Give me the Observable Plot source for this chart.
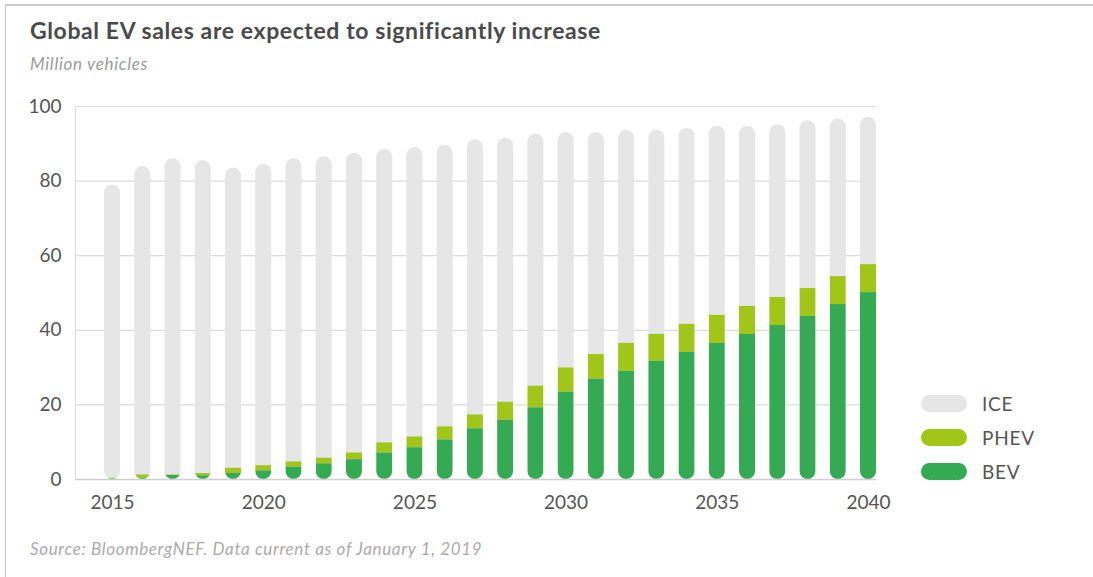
<!DOCTYPE html>
<html>
<head>
<meta charset="utf-8">
<script src="https://cdn.jsdelivr.net/npm/d3@7"></script>
<script src="https://cdn.jsdelivr.net/npm/@observablehq/plot@0.6"></script>
<style>
  html, body { margin: 0; padding: 0; background: #fff; }
  body { width: 1093px; height: 577px; position: relative; overflow: hidden; font-family: Lato, "Noto Sans", sans-serif; }
  #frame { position: absolute; left: 5px; top: 4px; width: 1200px; height: 700px; border-top: 2px solid #cbcbcb; border-left: 1.5px solid #c4c4c4; }
  #title { position: absolute; left: 30px; top: 16px; font-size: 23px; font-weight: 700; color: #4a4a4a; white-space: nowrap; letter-spacing: 0.6px; }
  #subtitle { position: absolute; left: 30px; top: 53px; font-size: 17px; font-style: italic; color: #9a9a9a; white-space: nowrap; letter-spacing: 0.7px; }
  #chart { position: absolute; left: 0; top: 88px; }
  #legend { position: absolute; left: 921px; top: 386px; }
  .item { display: flex; align-items: center; height: 34px; }
  .sw { width: 46px; height: 17px; border-radius: 9px; margin-right: 15px; }
  .lab { font-size: 19px; color: #555; letter-spacing: 0.8px; }
  #source { position: absolute; left: 30px; top: 538px; font-size: 17px; font-style: italic; color: #ababab; white-space: nowrap; letter-spacing: 0.65px; }
</style>
</head>
<body>
<div id="frame"></div>
<div id="title">Global EV sales are expected to significantly increase</div>
<div id="subtitle">Million vehicles</div>
<div id="chart"></div>
<div id="legend"></div>
<div id="source">Source: BloombergNEF. Data current as of January 1, 2019</div>
<script>
// ---- data (million vehicles) ----
const years = [2015, 2016, 2017, 2018, 2019, 2020, 2021, 2022, 2023, 2024, 2025, 2026, 2027,
               2028, 2029, 2030, 2031, 2032, 2033, 2034, 2035, 2036, 2037, 2038, 2039, 2040];
const bev  = [0.2, 0.3, 1.1, 1.0, 1.6, 2.3, 3.3, 4.2, 5.3, 7.1, 8.5, 10.6, 13.6,
              15.9, 19.2, 23.4, 26.9, 29.0, 31.7, 34.1, 36.5, 38.9, 41.3, 43.7, 46.9, 50.1];
const phev = [0.1, 0.9, 0.1, 0.6, 1.4, 1.4, 1.4, 1.5, 1.8, 2.7, 2.9, 3.5, 3.7,
              4.8, 5.8, 6.5, 6.6, 7.5, 7.2, 7.5, 7.5, 7.5, 7.5, 7.5, 7.5, 7.5];
const ice  = [78.6, 82.7, 84.8, 83.9, 80.5, 80.8, 81.3, 80.8, 80.4, 78.7, 77.6, 75.5, 73.8,
              70.8, 67.6, 63.1, 59.5, 57.1, 54.7, 52.5, 50.7, 48.3, 46.3, 45.0, 42.2, 39.5];
const yTicks = [0, 20, 40, 60, 80, 100];
const xTicks = [2015, 2020, 2025, 2030, 2035, 2040];
const seriesNames = ["ICE", "PHEV", "BEV"];
const seriesColors = ["#e6e6e6", "#a2c617", "#34ab52"];

const rows = years.map((year, i) => ({year, bev: bev[i], phev: phev[i], ice: ice[i]}));

const chart = Plot.plot({
  width: 1093,
  height: 440,
  marginLeft: 75,
  marginRight: 217,
  marginTop: 18,
  marginBottom: 49,
  style: {fontFamily: "Lato, 'Noto Sans', sans-serif", color: "#555", background: "transparent"},
  x: {type: "band", domain: years, paddingInner: 0.47, paddingOuter: 0.48, align: 1, round: false, axis: null},
  y: {domain: [0, 100], axis: null},
  marks: [
    Plot.gridY(yTicks, {stroke: "#dcdcdc", strokeOpacity: 1, strokeWidth: 1.2}),
    Plot.frame({anchor: "left", stroke: "#dcdcdc", strokeWidth: 1.2}),
    Plot.barY(rows, {x: "year", y1: 0, y2: d => d.bev + d.phev + d.ice, fill: seriesColors[0], rx: 8, className: "icebars"}),
    Plot.barY(rows, {x: "year", y1: d => d.bev, y2: d => d.bev + d.phev, fill: seriesColors[1], className: "phevbars"}),
    Plot.barY(rows, {x: "year", y1: 0, y2: "bev", fill: seriesColors[2], className: "bevbars"}),
    Plot.ruleY([0], {stroke: "#cfcfcf", strokeWidth: 1.6}),
    Plot.axisY(yTicks, {tickSize: 0, tickPadding: 14, fontSize: 19, fill: "#555", label: null}),
    Plot.axisX(xTicks, {tickSize: 0, tickPadding: 16, fontSize: 19, fill: "#555", label: null, tickFormat: d => String(d)})
  ]
});
document.getElementById("chart").appendChild(chart);

// Clip the EV segments to the rounded (pill) outline of each full bar
const svg = d3.select(chart);
const defs = svg.insert("defs", ":first-child");
const cp = defs.append("clipPath").attr("id", "pill-clip");
svg.selectAll("g.icebars rect").each(function () {
  const r = +this.getAttribute("width") / 2;
  this.setAttribute("rx", r);
  this.setAttribute("ry", r);
  cp.node().appendChild(this.cloneNode());
});
svg.selectAll("g.phevbars, g.bevbars").attr("clip-path", "url(#pill-clip)");

// Legend
const legend = d3.select("#legend");
seriesNames.forEach((name, i) => {
  const it = legend.append("div").attr("class", "item");
  it.append("div").attr("class", "sw").style("background", seriesColors[i]);
  it.append("div").attr("class", "lab").text(name);
});
</script>
</body>
</html>
